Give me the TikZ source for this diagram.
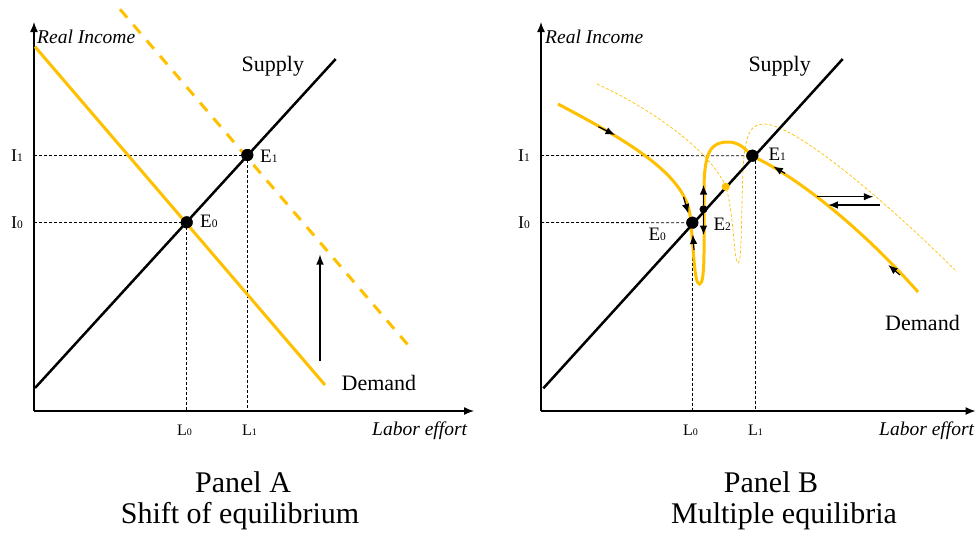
\documentclass[tikz,border=0pt]{standalone}
\usepackage{fontspec}
\setmainfont{Liberation Serif}
\usetikzlibrary{arrows.meta}
\definecolor{gold}{RGB}{255,192,0}
\newcommand\sbs[1]{{\fontsize{11.5}{12}\selectfont #1}}
\newcommand\sbl[1]{{\fontsize{10}{10}\selectfont #1}}
\begin{document}
\begin{tikzpicture}[x=1pt,y=-1pt,
  axis/.style={line width=1.3pt,-{Latex[length=10pt,width=8pt]}},
  supply/.style={line width=2.5pt,black},
  demand/.style={line width=3pt,gold},
  shifted/.style={line width=3pt,gold,dash pattern=on 11pt off 9.5pt},
  thindot/.style={line width=0.7pt,gold,dash pattern=on 3pt off 2pt},
  guide/.style={line width=0.8pt,dash pattern=on 3pt off 2pt},
  carrow/.style={line width=1.2pt,-{Latex[length=9.5pt,width=7.5pt]}},
  bigdot/.style={circle,fill=black,inner sep=0pt,minimum size=12pt},
  smalldot/.style={circle,fill=black,inner sep=0pt,minimum size=8pt},
  golddot/.style={circle,fill=gold,inner sep=0pt,minimum size=8pt},
  axlab/.style={anchor=base west,inner sep=0pt,font=\fontsize{19.5}{20}\selectfont\itshape},
  curvelab/.style={anchor=base west,inner sep=0pt,font=\fontsize{22}{24}\selectfont},
  elab/.style={anchor=base west,inner sep=0pt,font=\fontsize{19}{20}\selectfont},
  ilab/.style={anchor=base west,inner sep=0pt,font=\fontsize{18}{20}\selectfont},
  llab/.style={anchor=base west,inner sep=0pt,font=\fontsize{16}{18}\selectfont},
  title/.style={anchor=base,inner sep=0pt,font=\fontsize{30}{32}\selectfont}]
\useasboundingbox (0,0) rectangle (976,542);

%%%%%%%%%%%%%%%% Panel A
\coordinate (OA) at (34,411);
\coordinate (YA) at (34,22);
\coordinate (XA) at (474,411);
\draw[axis] (OA) -- (YA);
\draw[axis] (OA) -- (XA);

\coordinate (SA1) at (35,388);
\coordinate (SA2) at (335.7,59);
\coordinate (DA1) at (35,46.7);
\coordinate (DA2) at (325,385);
\coordinate (DB1) at (120,9.3);
\coordinate (DB2) at (411.7,349.3);

\node[bigdot] (EA0) at (186.7,222.3) {};
\node[bigdot] (EA1) at (247.3,155) {};

\draw[guide] (34,155) -- (EA1.center);
\draw[guide] (34,222.3) -- (EA0.center);
\draw[guide] (EA1.center) -- (247.3,411);
\draw[guide] (EA0.center) -- (186.7,411);

\draw[demand] (DA1) -- (DA2);
\draw[shifted] (DB1) -- (DB2);
\draw[supply] (SA1) -- (SA2);
\node[bigdot] at (EA0) {};
\node[bigdot] at (EA1) {};

\coordinate (UA1) at (320,360.7);
\coordinate (UA2) at (320,254.5);
\draw[line width=1.2pt,-{Latex[length=10pt,width=7.5pt]}] (UA1) -- (UA2);

\node[axlab] (RIA) at (37,43) {Real Income};
\node[axlab] (LEA) at (372,435) {Labor effort};
\node[curvelab] (SupA) at (241.5,71) {Supply};
\node[curvelab] (DemA) at (341.5,390) {Demand};
\node[elab] (E0A) at (200,227.5) {E\sbs{0}};
\node[elab] (E1A) at (260,162) {E\sbs{1}};
\node[ilab] (I1A) at (11,161.5) {I\sbs{1}};
\node[ilab] (I0A) at (11,228.5) {I\sbs{0}};
\node[llab] (L0A) at (177,435) {L\sbl{0}};
\node[llab] (L1A) at (242,435) {L\sbl{1}};
\node[title] (PA) at (243,492) {Panel A};
\node[title] (SA) at (240,523) {Shift of equilibrium};

%%%%%%%%%%%%%%%% Panel B
\coordinate (OB) at (541,411);
\coordinate (YB) at (541,22);
\coordinate (XB) at (975.5,411);
\draw[axis] (OB) -- (YB);
\draw[axis] (OB) -- (XB);

\coordinate (SB1) at (543.3,388.3);
\coordinate (SB2) at (842.7,59);

\node[bigdot] (EB0) at (692.3,222.7) {};
\node[bigdot] (EB1) at (752.3,155.7) {};

\draw[guide] (541,155.5) -- (EB1.center);
\draw[guide] (541,222.5) -- (EB0.center);
\draw[guide] (755.6,155.5) -- (755.6,411);
\draw[guide] (EB0.center) -- (692.3,411);

% thin dotted shifted demand
\draw[thindot] (597,84) .. controls (650,108) and (710,150) .. (726,187)
  .. controls (734,215) and (734,263) .. (738,263)
  .. controls (742,263) and (741,220) .. (743,170)
  .. controls (745,130) and (752,124) .. (765,124)
  .. controls (800,126) and (900,215) .. (957,272);

% solid demand
\draw[demand] (558,104) .. controls (630,142) and (685,175) .. (690,215)
  .. controls (694,250) and (694,284) .. (699.5,284)
  .. controls (705,284) and (704,250) .. (704,209) -- (704,190)
  .. controls (704,150) and (712,142) .. (728,142)
  .. controls (740,142) and (746,150) .. (752,156)
  .. controls (800,178) and (865,232) .. (918,292);

\draw[supply] (SB1) -- (SB2);
\node[bigdot] at (EB0) {};
\node[bigdot] at (EB1) {};
\node[smalldot] (EB2) at (703.5,209.3) {};
\node[golddot] (GB) at (725.7,186.7) {};

% arrows
\coordinate (a1t) at (598.3,126.7); \coordinate (a1h) at (615,135);
\draw[carrow] (a1t) -- (a1h);
\coordinate (a2t) at (683.5,197); \coordinate (a2h) at (688.3,213.5);
\draw[carrow] (a2t) -- (a2h);
\coordinate (a3t) at (694,250); \coordinate (a3h) at (692.8,234.5);
\draw[carrow] (a3t) -- (a3h);
\coordinate (a4h) at (703.5,185);
\draw[carrow] (EB2) -- (a4h);
\coordinate (a5h) at (703.5,235);
\draw[carrow] (EB2) -- (a5h);
\coordinate (a6t) at (785,173.3); \coordinate (a6h) at (773.3,166.5);
\draw[carrow] (a6t) -- (a6h);
\coordinate (a7t) at (900,275); \coordinate (a7h) at (888.3,265);
\draw[carrow] (a7t) -- (a7h);
\coordinate (h1t) at (817.3,196.7); \coordinate (h1h) at (873.3,196.7);
\draw[carrow] (h1t) -- (h1h);
\coordinate (h2t) at (880,205); \coordinate (h2h) at (828.3,205);
\draw[carrow] (h2t) -- (h2h);

\node[axlab] (RIB) at (545,43) {Real Income};
\node[axlab] (LEB) at (879,435) {Labor effort};
\node[curvelab] (SupB) at (748.3,71) {Supply};
\node[curvelab] (DemB) at (885,330) {Demand};
\node[elab] (E0B) at (648.3,240.7) {E\sbs{0}};
\node[elab] (E1B) at (768.3,160) {E\sbs{1}};
\node[elab] (E2B) at (713.3,230.7) {E\sbs{2}};
\node[ilab] (I1B) at (518,161.5) {I\sbs{1}};
\node[ilab] (I0B) at (518,228.5) {I\sbs{0}};
\node[llab] (L0B) at (683,435) {L\sbl{0}};
\node[llab] (L1B) at (748,435) {L\sbl{1}};
\node[title] (PB) at (771,492) {Panel B};
\node[title] (MB) at (784,523) {Multiple equilibria};
\end{tikzpicture}
\end{document}
